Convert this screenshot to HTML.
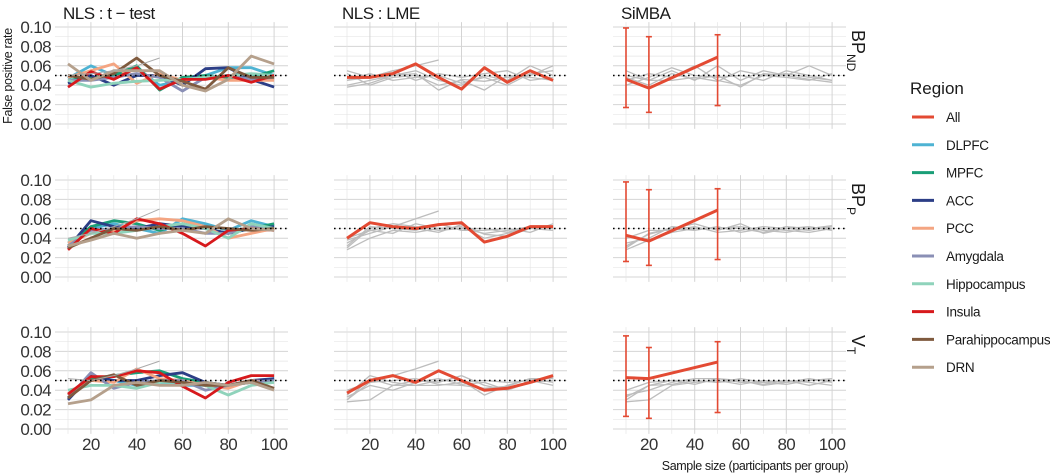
<!DOCTYPE html>
<html><head><meta charset="utf-8"><style>
body{margin:0;background:#fff;}
svg{display:block;font-family:"Liberation Sans",sans-serif;}
</style></head><body>
<svg id="chart" width="1050" height="474" viewBox="0 0 1050 474"></svg>
<script>
const sampleSizes=[10,20,30,40,50,60,70,80,90,100];
const yTicks=[0,0.02,0.04,0.06,0.08,0.10];
const yTickLabels=["0.00","0.02","0.04","0.06","0.08","0.10"];
const xTicks=[20,40,60,80,100];
const xTickLabels=["20","40","60","80","100"];
const methods=["NLS : t \u2212 test","NLS : LME","SiMBA"];
const regions=["All","DLPFC","MPFC","ACC","PCC","Amygdala","Hippocampus","Insula","Parahippocampus","DRN"];
const regionColors=["#e34a33","#4eb3d3","#1a9e77","#2c3e86","#f4a582","#8a8fb5","#8fd3bb","#d7191c","#7f5a3e","#b5a08c"];
const ttestBPND=[
[.047,.060,.050,.058,.040,.045,.050,.058,.058,.050],
[.045,.048,.050,.060,.035,.048,.050,.048,.048,.055],
[.042,.050,.040,.050,.050,.040,.057,.058,.046,.038],
[.048,.055,.062,.042,.052,.045,.048,.045,.045,.045],
[.045,.045,.048,.052,.048,.034,.048,.050,.046,.048],
[.045,.038,.042,.044,.045,.046,.048,.050,.052,.050],
[.038,.054,.046,.058,.036,.046,.046,.050,.043,.050],
[.050,.046,.052,.068,.050,.044,.036,.058,.048,.048],
[.062,.045,.055,.055,.055,.040,.034,.046,.070,.062]];
const ttestBPP=[
[.035,.050,.055,.050,.045,.060,.055,.048,.058,.052],
[.032,.052,.058,.055,.048,.055,.050,.045,.050,.055],
[.030,.058,.052,.050,.055,.052,.050,.045,.050,.052],
[.035,.045,.048,.058,.060,.058,.052,.040,.045,.050],
[.032,.048,.050,.052,.050,.050,.045,.045,.052,.050],
[.038,.045,.045,.048,.052,.055,.050,.040,.055,.050],
[.028,.050,.045,.060,.055,.045,.032,.048,.050,.048],
[.030,.040,.050,.048,.052,.048,.052,.050,.048,.050],
[.032,.038,.045,.040,.045,.048,.045,.060,.050,.048]];
const ttestVT=[
[.035,.055,.050,.045,.048,.045,.045,.045,.048,.050],
[.032,.052,.055,.058,.060,.052,.048,.045,.048,.052],
[.030,.055,.050,.050,.055,.058,.048,.045,.050,.052],
[.035,.050,.048,.062,.052,.050,.045,.042,.050,.048],
[.032,.058,.042,.048,.050,.050,.040,.045,.048,.050],
[.040,.045,.045,.042,.048,.048,.045,.035,.045,.048],
[.036,.054,.054,.060,.058,.044,.032,.048,.055,.055],
[.032,.050,.056,.045,.050,.048,.045,.045,.050,.042],
[.026,.030,.045,.048,.045,.045,.048,.045,.048,.040]];
const shortBPND=[.050,.052,.055,.060,.068];
const shortBPP=[.040,.045,.052,.060,.070];
const shortVT=[.052,.050,.055,.062,.070];
const lmeAllBPND=[.048,.048,.052,.062,.048,.036,.058,.043,.055,.045];
const lmeAllBPP=[.040,.056,.052,.050,.054,.056,.036,.042,.052,.052];
const lmeAllVT=[.037,.050,.055,.048,.060,.050,.040,.042,.048,.055];
const lmeGreyBPND=[[.040,.045,.050,.055,.045,.040,.050,.045,.060,.050],[.052,.040,.048,.050,.040,.045,.035,.050,.048,.045],[.045,.052,.045,.048,.050,.042,.048,.040,.052,.055],[.055,.048,.055,.045,.052,.048,.052,.055,.045,.048],[.038,.042,.050,.052,.035,.046,.044,.048,.050,.060]];
const lmeGreyBPP=[[.030,.050,.055,.052,.048,.050,.045,.048,.052,.050],[.035,.048,.045,.055,.050,.052,.040,.045,.050,.052],[.032,.052,.050,.048,.055,.048,.048,.050,.046,.055],[.038,.045,.052,.050,.046,.054,.044,.042,.050,.048],[.028,.040,.048,.046,.050,.050,.050,.046,.052,.050]];
const lmeGreyVT=[[.030,.052,.045,.050,.048,.055,.045,.040,.048,.050],[.035,.055,.048,.045,.050,.050,.035,.045,.052,.048],[.028,.030,.045,.045,.045,.048,.050,.048,.050,.045],[.040,.048,.050,.052,.046,.045,.042,.044,.052,.052],[.033,.045,.040,.048,.052,.046,.048,.040,.050,.053]];
const lmeShortBPND=[.045,.048,.055,.060,.066];
const lmeShortBPP=[.040,.048,.052,.060,.068];
const lmeShortVT=[.030,.048,.055,.062,.070];
const simbaGreyBPND=[[.050,.045,.055,.045,.060,.045,.055,.050,.060,.050],[.045,.052,.048,.060,.045,.040,.050,.052,.048,.045],[.040,.048,.058,.050,.048,.050,.045,.055,.050,.045],[.055,.045,.045,.048,.044,.055,.050,.048,.045,.052],[.048,.040,.052,.046,.050,.038,.052,.050,.046,.043]];
const simbaGreyBPP=[[.030,.045,.050,.055,.048,.055,.045,.050,.048,.052],[.035,.040,.052,.050,.050,.052,.048,.046,.050,.050],[.040,.048,.048,.052,.046,.048,.052,.050,.052,.048],[.032,.044,.050,.048,.052,.046,.050,.048,.046,.050],[.028,.038,.046,.050,.050,.050,.046,.052,.050,.053]];
const simbaGreyVT=[[.030,.045,.050,.050,.048,.050,.045,.048,.050,.052],[.035,.040,.048,.052,.052,.048,.048,.046,.050,.050],[.028,.030,.045,.048,.050,.046,.050,.048,.052,.048],[.040,.048,.050,.046,.052,.050,.046,.050,.048,.045],[.033,.045,.046,.050,.048,.052,.048,.050,.045,.050]];
const simbaSizes=[10,20,50];
const simbaAllBPND=[.046,.037,.069];
const simbaLoBPND=[.017,.012,.019];
const simbaHiBPND=[.099,.090,.092];
const simbaAllBPP=[.043,.037,.069];
const simbaLoBPP=[.016,.012,.018];
const simbaHiBPP=[.098,.090,.091];
const simbaAllVT=[.053,.052,.069];
const simbaLoVT=[.013,.011,.017];
const simbaHiVT=[.096,.084,.090];

const NS="http://www.w3.org/2000/svg";
const svg=document.getElementById('chart');
function mk(tag,attrs,parent,text){const e=document.createElementNS(NS,tag);for(const k in attrs)e.setAttribute(k,attrs[k]);if(text!==undefined)e.textContent=text;(parent||svg).appendChild(e);return e;}
const colX0=[55,334,613];
const rowTop=[27,180,332];
const yScale=970;
function xPos(c,v){return colX0[c]+13+(v-10)*2.29;}
function yPos(r,v){return rowTop[r]+(0.10-v)*yScale;}
function line(g,c,r,xs,ys,color,w){
  const d=ys.map((v,i)=>(i?'L':'M')+xPos(c,xs[i]).toFixed(1)+','+yPos(r,v).toFixed(1)).join('');
  return mk('path',{d:d,fill:'none',stroke:color,'stroke-width':w,'stroke-linejoin':'round'},g);
}
const rowKeys=['bpnd','bpp','vt'];
const ttestData=[ttestBPND,ttestBPP,ttestVT];
const shortData=[shortBPND,shortBPP,shortVT];
const lmeAll=[lmeAllBPND,lmeAllBPP,lmeAllVT];
const lmeGrey=[lmeGreyBPND,lmeGreyBPP,lmeGreyVT];
const lmeShort=[lmeShortBPND,lmeShortBPP,lmeShortVT];
const simGrey=[simbaGreyBPND,simbaGreyBPP,simbaGreyVT];
const simAll=[simbaAllBPND,simbaAllBPP,simbaAllVT];
const simLo=[simbaLoBPND,simbaLoBPP,simbaLoVT];
const simHi=[simbaHiBPND,simbaHiBPP,simbaHiVT];

for(let c=0;c<3;c++){
  const t=mk('text',{x:colX0[c]+8,y:19,'font-size':17,fill:'#1a1a1a','letter-spacing':-0.5},svg,methods[c]);
  
  
  for(let r=0;r<3;r++){
    const g=mk('g',{});
    
    
    for(let k=0;k<=10;k++){const v=k*0.01;mk('line',{x1:colX0[c],x2:colX0[c]+233,y1:yPos(r,v),y2:yPos(r,v),stroke:k%2?'#e6e6e6':'#d4d4d4','stroke-width':k%2?0.7:1},g);}
    for(let v=10;v<=100;v+=10){mk('line',{x1:xPos(c,v),x2:xPos(c,v),y1:yPos(r,0.105),y2:yPos(r,-0.005),stroke:v%20?'#e6e6e6':'#d4d4d4','stroke-width':v%20?0.7:1},g);}
    if(c===0){
      yTicks.forEach((v,i)=>{const tl=mk('text',{x:51,y:yPos(r,v)+6,'font-size':17,'text-anchor':'end',fill:'#333','letter-spacing':-0.6},svg,yTickLabels[i]);
        
        });
      ttestData[r].forEach((s,i)=>{const p=line(g,c,r,sampleSizes,s,regionColors[i+1],2.8);
        
        });
      line(g,c,r,sampleSizes.slice(0,5),shortData[r],'#aaaaaa',1);
    } else if(c===1){
      lmeGrey[r].forEach(s=>{const p=line(g,c,r,sampleSizes,s,'#bdbdbd',1.3);
        
        });
      line(g,c,r,sampleSizes.slice(0,5),lmeShort[r],'#bdbdbd',1.3);
      const p=line(g,c,r,sampleSizes,lmeAll[r],regionColors[0],3);
      
      
    } else {
      simGrey[r].forEach(s=>{const p=line(g,c,r,sampleSizes,s,'#bdbdbd',1.3);
        
        });
    }
    mk('line',{x1:colX0[c],x2:colX0[c]+233,y1:yPos(r,0.05),y2:yPos(r,0.05),stroke:'#000','stroke-width':1.6,'stroke-dasharray':'1.6,3.4'},g);
    if(c===2){
      simbaSizes.forEach((s,i)=>{const x=xPos(c,s);
        const eb=mk('g',{},g);
        
        
        mk('line',{x1:x,x2:x,y1:yPos(r,simLo[r][i]),y2:yPos(r,simHi[r][i]),stroke:'#e34a33','stroke-width':1.6},eb);
        [simLo[r][i],simHi[r][i]].forEach(v=>mk('line',{x1:x-3,x2:x+3,y1:yPos(r,v),y2:yPos(r,v),stroke:'#e34a33','stroke-width':1.6},eb));});
      const p=line(g,c,r,simbaSizes,simAll[r],regionColors[0],3);
      
      
    }
    if(r===2){
      xTicks.forEach((v,i)=>{const tl=mk('text',{x:xPos(c,v),y:450,'font-size':17,'text-anchor':'middle',fill:'#333','letter-spacing':-0.6},svg,xTickLabels[i]);
        
        });
    }
  }
}
const strips=[['BP','ND'],['BP','P'],['V','T']];
strips.forEach((s,r)=>{
  const t=mk('text',{transform:`translate(852,${rowTop[r]+3}) rotate(90)`,'font-size':18,fill:'#1a1a1a'});
  
  
  mk('tspan',{},t,s[0]);
  mk('tspan',{'font-size':12,dy:5},t,s[1]);
});
const yt=mk('text',{transform:'translate(12,76) rotate(-90)','font-size':12.5,'text-anchor':'middle',fill:'#1a1a1a','letter-spacing':-0.3},svg,'False positive rate');


const xt=mk('text',{x:755,y:470,'font-size':12.5,'text-anchor':'middle',fill:'#1a1a1a','letter-spacing':-0.4},svg,'Sample size (participants per group)');


const lg=mk('g',{});


mk('text',{x:910,y:94,'font-size':17,fill:'#1a1a1a'},lg,'Region');
regions.forEach((name,i)=>{
  const y=117+i*27.8;
  const e=mk('g',{},lg);
  
  
  mk('line',{x1:912,x2:934,y1:y,y2:y,stroke:regionColors[i],'stroke-width':3},e);
  mk('text',{x:946,y:y+5,'font-size':13.5,fill:'#1a1a1a','letter-spacing':-0.3},e,name);
});
</script>
</body></html>
